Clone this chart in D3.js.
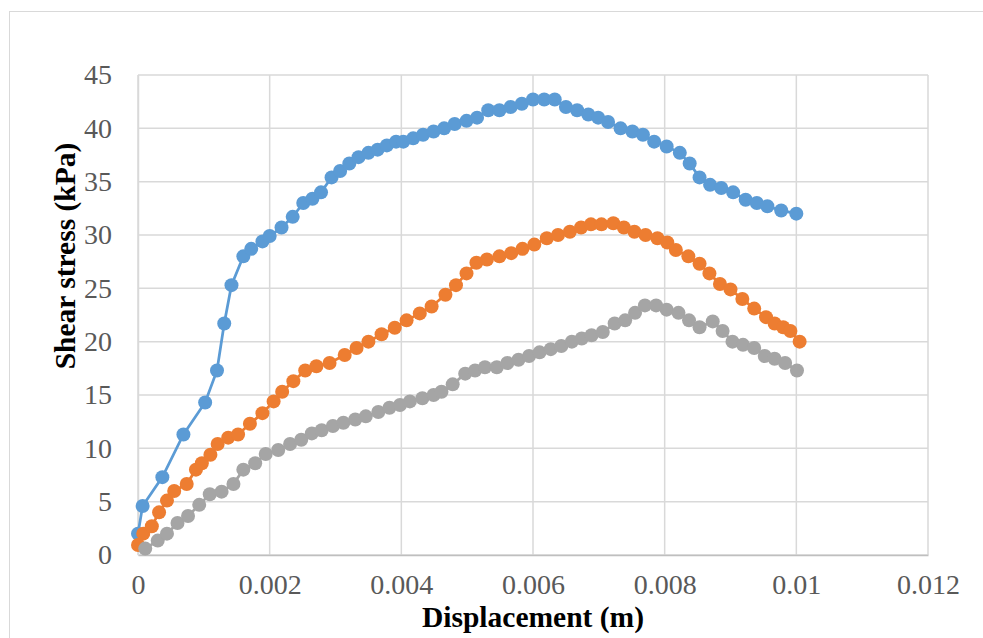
<!DOCTYPE html>
<head>
    <meta charset="utf-8">
    <script src="https://d3js.org/d3.v7.min.js"></script>
    <style>
      body { margin: 0; background: #fff; }
      text { font-family: "Liberation Serif", "Times New Roman", serif; }
      .axistitle { font-weight: bold; font-size: 29.5px; fill: #000; }
    </style>
<body>
    <script>
        // displacement (m) and shear stress (kPa) for each test
        var blueX = [0, 0.00007, 0.00037, 0.00069, 0.00102, 0.00120, 0.00131, 0.00142, 0.00160, 0.00172,
          0.00189, 0.00200, 0.00218, 0.00235, 0.00251, 0.00265, 0.00278, 0.00294, 0.00307, 0.00321,
          0.00335, 0.00350, 0.00364, 0.00378, 0.00392, 0.00403, 0.00418, 0.00433, 0.00449, 0.00465,
          0.00481, 0.00499, 0.00515, 0.00532, 0.00549, 0.00566, 0.00583, 0.00600, 0.00617, 0.00633,
          0.00650, 0.00667, 0.00684, 0.00699, 0.00714, 0.00733, 0.00751, 0.00767, 0.00784, 0.00803,
          0.00823, 0.00838, 0.00853, 0.00869, 0.00886, 0.00904, 0.00923, 0.00940, 0.00956, 0.00977, 0.01000];
        var blueY = [2.0, 4.6, 7.3, 11.3, 14.3, 17.3, 21.7, 25.3, 28.0, 28.7,
          29.4, 29.9, 30.7, 31.7, 33.0, 33.4, 34.0, 35.4, 36.0, 36.7,
          37.3, 37.7, 38.0, 38.4, 38.75, 38.75, 39.06, 39.4, 39.7, 40.0,
          40.4, 40.7, 41.0, 41.7, 41.7, 42.0, 42.3, 42.7, 42.7, 42.7,
          42.0, 41.7, 41.3, 41.0, 40.6, 40.0, 39.7, 39.4, 38.75, 38.3,
          37.7, 36.7, 35.4, 34.7, 34.4, 34.0, 33.3, 33.0, 32.7, 32.3, 32.0];

        var orangeX = [0, 0.00008, 0.00021, 0.00032, 0.00044, 0.00055, 0.00074, 0.00088, 0.00097, 0.00110,
          0.00121, 0.00137, 0.00152, 0.00170, 0.00189, 0.00206, 0.00219, 0.00236, 0.00254, 0.00271,
          0.00291, 0.00314, 0.00332, 0.00350, 0.00370, 0.00390, 0.00408, 0.00428, 0.00446, 0.00467,
          0.00483, 0.00499, 0.00514, 0.00530, 0.00549, 0.00567, 0.00584, 0.00602, 0.00621, 0.00638,
          0.00656, 0.00673, 0.00688, 0.00704, 0.00722, 0.00738, 0.00754, 0.00771, 0.00789, 0.00804,
          0.00817, 0.00836, 0.00853, 0.00868, 0.00884, 0.00900, 0.00918, 0.00936, 0.00954, 0.00967,
          0.00980, 0.00991, 0.01005];
        var orangeY = [0.94, 2.0, 2.7, 4.0, 5.1, 6.0, 6.66, 8.0, 8.6, 9.4,
          10.4, 11.0, 11.3, 12.3, 13.3, 14.4, 15.3, 16.3, 17.3, 17.7,
          18.0, 18.75, 19.4, 20.0, 20.7, 21.3, 22.0, 22.65, 23.3, 24.4,
          25.3, 26.4, 27.4, 27.7, 28.0, 28.3, 28.7, 29.1, 29.7, 30.0,
          30.3, 30.7, 31.0, 31.0, 31.1, 30.7, 30.3, 30.0, 29.7, 29.3,
          28.6, 28.0, 27.3, 26.4, 25.4, 24.9, 24.0, 23.1, 22.3, 21.7,
          21.35, 21.0, 20.0];

        var grayX = [0.00011, 0.00030, 0.00044, 0.00060, 0.00076, 0.00093, 0.00109, 0.00127, 0.00145, 0.00160,
          0.00178, 0.00194, 0.00213, 0.00231, 0.00248, 0.00264, 0.00279, 0.00296, 0.00312, 0.00330,
          0.00346, 0.00365, 0.00382, 0.00398, 0.00413, 0.00432, 0.00449, 0.00461, 0.00478, 0.00497,
          0.00512, 0.00527, 0.00545, 0.00561, 0.00578, 0.00594, 0.00610, 0.00627, 0.00643, 0.00659,
          0.00674, 0.00689, 0.00706, 0.00724, 0.00740, 0.00755, 0.00770, 0.00787, 0.00803, 0.00821,
          0.00837, 0.00853, 0.00873, 0.00888, 0.00903, 0.00919, 0.00936, 0.00952, 0.00967, 0.00983, 0.01001];
        var grayY = [0.6, 1.35, 2.0, 3.0, 3.66, 4.7, 5.7, 5.94, 6.66, 8.0,
          8.6, 9.47, 9.84, 10.4, 10.8, 11.4, 11.7, 12.1, 12.4, 12.7,
          13.0, 13.4, 13.8, 14.06, 14.4, 14.7, 15.0, 15.3, 16.0, 17.0,
          17.3, 17.6, 17.6, 18.0, 18.3, 18.65, 19.0, 19.3, 19.6, 20.0,
          20.3, 20.6, 20.9, 21.7, 22.0, 22.7, 23.4, 23.4, 23.0, 22.7,
          22.0, 21.35, 21.9, 21.0, 20.0, 19.7, 19.4, 18.65, 18.4, 18.0, 17.3];

        var xTicks = [0, 0.002, 0.004, 0.006, 0.008, 0.01, 0.012];
        var yTicks = [0, 5, 10, 15, 20, 25, 30, 35, 40, 45];

        var series = [
          {xs: blueX, ys: blueY, color: "#5B9BD5"},
          {xs: orangeX, ys: orangeY, color: "#ED7D31"},
          {xs: grayX, ys: grayY, color: "#A5A5A5"}
        ];

        var svg_w = 983, svg_h = 638;
        var svgContainer = d3.select("body")
          .append("svg")
          .attr("width", svg_w)
          .attr("height", svg_h);

        // chart frame
        svgContainer.append("rect")
          .attr("x", 9.5).attr("y", 11.5)
          .attr("width", svg_w + 10).attr("height", svg_h + 10)
          .attr("fill", "none")
          .attr("stroke", "#d9d9d9");

        var plotLeft = 138, plotRight = 928, plotTop = 75, plotBottom = 555;
        var x = d3.scaleLinear().domain([0, 0.012]).range([plotLeft, plotRight]);
        var y = d3.scaleLinear().domain([0, 45]).range([plotBottom, plotTop]);

        // gridlines
        svgContainer.append("g")
          .selectAll("line").data(yTicks).enter()
          .append("line")
          .attr("x1", plotLeft).attr("x2", plotRight)
          .attr("y1", function(d) {return y(d);})
          .attr("y2", function(d) {return y(d);})
          .attr("stroke", "#d9d9d9").attr("stroke-width", 1.5);
        svgContainer.append("g")
          .selectAll("line").data(xTicks).enter()
          .append("line")
          .attr("y1", plotTop).attr("y2", plotBottom)
          .attr("x1", function(d) {return x(d);})
          .attr("x2", function(d) {return x(d);})
          .attr("stroke", "#d9d9d9").attr("stroke-width", 1.5);

        var xAxis = svgContainer.append("g")
          .attr("transform", "translate(0," + plotBottom + ")")
          .call(d3.axisBottom(x).tickValues(xTicks).tickSize(0).tickPadding(19)
            .tickFormat(function(d) {return String(+d.toFixed(3));}));
        xAxis.select(".domain").attr("stroke", "#bfbfbf").attr("stroke-width", 1.5);
        xAxis.selectAll(".tick text").attr("dy", "0.72em");

        var yAxis = svgContainer.append("g")
          .attr("transform", "translate(" + plotLeft + ",0)")
          .call(d3.axisLeft(y).tickValues(yTicks).tickSize(0).tickPadding(26));
        yAxis.select(".domain").attr("stroke", "#d9d9d9").attr("stroke-width", 1.5);

        svgContainer.selectAll(".tick text")
          .style("font-family", "'Liberation Serif', 'Times New Roman', serif")
          .style("font-size", "28px")
          .attr("fill", "#595959");

        var line = d3.line()
          .x(function(d) {return x(d[0]);})
          .y(function(d) {return y(d[1]);});

        series.forEach(function(s) {
          var pts = s.xs.map(function(v, i) {return [v, s.ys[i]];});
          var g = svgContainer.append("g");
          g.append("path")
            .datum(pts)
            .attr("d", line)
            .attr("fill", "none")
            .attr("stroke", s.color)
            .attr("stroke-width", 2.75);
          g.selectAll("circle").data(pts).enter()
            .append("circle")
            .attr("cx", function(d) {return x(d[0]);})
            .attr("cy", function(d) {return y(d[1]);})
            .attr("r", 7)
            .attr("fill", s.color);
        });

        svgContainer.append("text")
          .classed("axistitle", true)
          .attr("x", (plotLeft + plotRight) / 2)
          .attr("y", 627)
          .attr("text-anchor", "middle")
          .text("Displacement (m)");

        svgContainer.append("text")
          .classed("axistitle", true)
          .attr("transform", "translate(75,256) rotate(-90)")
          .attr("text-anchor", "middle")
          .text("Shear stress (kPa)");
    </script>
</body>
